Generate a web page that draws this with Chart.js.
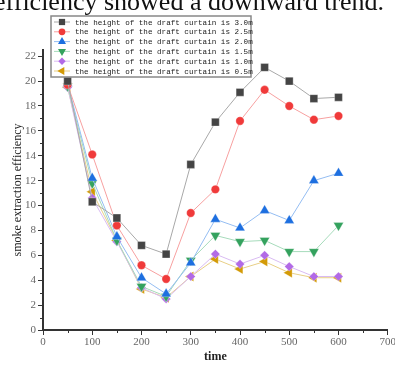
<!DOCTYPE html>
<html>
<head>
<meta charset="utf-8">
<script src="https://cdn.jsdelivr.net/npm/chart.js@4.4.0/dist/chart.umd.min.js"></script>
<style>
  html, body { margin: 0; padding: 0; background: #fff; overflow: hidden; width: 395px; height: 365px; }
  #wrap { position: relative; width: 397px; height: 365px; }
  #caption { position: absolute; left: -6px; top: -13px; font-family: "Liberation Serif", serif; font-size: 26px; line-height: 30px; color: #111; white-space: nowrap; }
</style>
</head>
<body>
<div id="wrap">
  <div id="caption">efficiency showed a downward trend.</div>
  <canvas id="line_chart" width="397" height="365"></canvas>
</div>
<script>
// data
var times = [50, 100, 150, 200, 250, 300, 350, 400, 450, 500, 550, 600];
var h30 = [20.0, 10.3, 9.0, 6.8, 6.1, 13.3, 16.7, 19.1, 21.1, 20.0, 18.6, 18.7];
var h25 = [19.7, 14.1, 8.4, 5.2, 4.1, 9.4, 11.3, 16.8, 19.3, 18.0, 16.9, 17.2];
var h20 = [19.8, 12.2, 7.5, 4.2, 2.9, 5.4, 8.9, 8.2, 9.6, 8.8, 12.0, 12.6];
var h15 = [19.6, 11.8, 7.2, 3.5, 2.7, 5.6, 7.6, 7.1, 7.2, 6.3, 6.3, 8.4];
var h10 = [19.5, 10.6, 7.1, 3.4, 2.5, 4.3, 6.1, 5.3, 6.0, 5.1, 4.3, 4.3];
var h05 = [19.5, 11.1, 7.2, 3.3, 2.6, 4.3, 5.7, 4.9, 5.5, 4.6, 4.2, 4.2];
var seriesNames = [
  "the height of the draft curtain is 3.0m",
  "the height of the draft curtain is 2.5m",
  "the height of the draft curtain is 2.0m",
  "the height of the draft curtain is 1.5m",
  "the height of the draft curtain is 1.0m",
  "the height of the draft curtain is 0.5m"
];
var xTicks = [0, 100, 200, 300, 400, 500, 600, 700];
var yTicks = [0, 2, 4, 6, 8, 10, 12, 14, 16, 18, 20, 22];

function pts(vals) {
  return vals.map(function (v, i) { return { x: times[i], y: v }; });
}

function series(label, vals, mark, line, style, rot, r) {
  return {
    label: label,
    data: pts(vals),
    borderColor: line,
    borderWidth: 1,
    backgroundColor: mark,
    pointBackgroundColor: mark,
    pointBorderColor: "rgba(255,255,255,0.6)",
    pointBorderWidth: 0.5,
    pointStyle: style,
    pointRotation: rot || 0,
    pointRadius: r,
    tension: 0
  };
}

// minor ticks + legend box
var extras = {
  id: "extras",
  afterDraw: function (chart) {
    var ctx = chart.ctx;
    var xs = chart.scales.x, ys = chart.scales.y;
    var area = chart.chartArea;
    ctx.save();
    ctx.strokeStyle = "#333";
    ctx.lineWidth = 1;
    for (var v = 1; v < 22.5; v += 2) {
      var py = Math.round(ys.getPixelForValue(v)) + 0.5;
      ctx.beginPath(); ctx.moveTo(area.left - 3, py); ctx.lineTo(area.left, py); ctx.stroke();
    }
    for (var u = 50; u < 700; u += 100) {
      var px = Math.round(xs.getPixelForValue(u)) + 0.5;
      ctx.beginPath(); ctx.moveTo(px, area.bottom); ctx.lineTo(px, area.bottom + 3); ctx.stroke();
    }

    // legend
    var bx = 51, by = 16, bw = 200, bh = 61;
    ctx.fillStyle = "#fff";
    ctx.fillRect(bx, by, bw, bh);
    ctx.strokeStyle = "#888";
    ctx.lineWidth = 1.5;
    ctx.strokeRect(bx, by, bw, bh);
    ctx.font = "7.6px 'Liberation Mono', monospace";
    ctx.textBaseline = "middle";
    chart.data.datasets.forEach(function (ds, i) {
      var ry = by + 6 + i * 9.8;
      ctx.strokeStyle = ds.borderColor;
      ctx.lineWidth = 1;
      ctx.beginPath(); ctx.moveTo(bx + 3, ry); ctx.lineTo(bx + 19, ry); ctx.stroke();
      ctx.fillStyle = ds.pointBackgroundColor;
      ctx.strokeStyle = ds.pointBackgroundColor;
      Chart.helpers.drawPoint(ctx, { pointStyle: ds.pointStyle, rotation: ds.pointRotation, radius: ds.pointRadius * 0.8, borderWidth: 0 }, bx + 11, ry);
      ctx.fillStyle = "#222";
      ctx.fillText(ds.label, bx + 24, ry + 0.5);
    });
    ctx.restore();
  }
};

var c1 = document.getElementById("line_chart").getContext("2d");
var line_chart = new Chart(c1, {
  type: "line",
  data: {
    datasets: [
      series(seriesNames[0], h30, "#454545", "#a8a8a8", "rect", 0, 5.5),
      series(seriesNames[1], h25, "#f03a3a", "#f7a0a0", "circle", 0, 4.2),
      series(seriesNames[2], h20, "#1d6fe0", "#94bdf2", "triangle", 0, 5.8),
      series(seriesNames[3], h15, "#34a25e", "#a6dbbb", "triangle", 180, 5.8),
      series(seriesNames[4], h10, "#b26ae6", "#d9bbf2", "rectRot", 0, 4.6),
      series(seriesNames[5], h05, "#d39a06", "#e8cf86", "triangle", 270, 5.8)
    ]
  },
  options: {
    responsive: false,
    animation: false,
    layout: { padding: { top: 50, left: 0, right: 0, bottom: 0 } },
    plugins: {
      legend: { display: false },
      tooltip: { enabled: false }
    },
    scales: {
      x: {
        type: "linear",
        min: 0,
        max: 700,
        afterBuildTicks: function (s) { s.ticks = xTicks.map(function (v) { return { value: v }; }); },
        afterFit: function (s) { s.height = 35; },
        border: { color: "#333", width: 2 },
        grid: { drawOnChartArea: false, tickLength: 5, tickColor: "#333" },
        ticks: { color: "#666", padding: 1, maxRotation: 0, font: { family: "Liberation Serif", size: 11 } },
        title: { display: true, text: "time", color: "#222", padding: { top: 0, bottom: 1 }, font: { family: "Liberation Serif", size: 12, weight: "bold" } }
      },
      y: {
        min: 0,
        max: 22.5,
        afterBuildTicks: function (s) { s.ticks = yTicks.map(function (v) { return { value: v }; }); },
        afterFit: function (s) { s.width = 43; },
        border: { color: "#333", width: 2 },
        grid: { drawOnChartArea: false, tickLength: 5, tickColor: "#333" },
        ticks: { color: "#666", padding: 2, font: { family: "Liberation Serif", size: 11 } },
        title: { display: true, text: "smoke extraction efficiency", color: "#222", padding: { top: 11, bottom: 0 }, font: { family: "Liberation Serif", size: 12 } }
      }
    }
  },
  plugins: [extras]
});
</script>
</body>
</html>
